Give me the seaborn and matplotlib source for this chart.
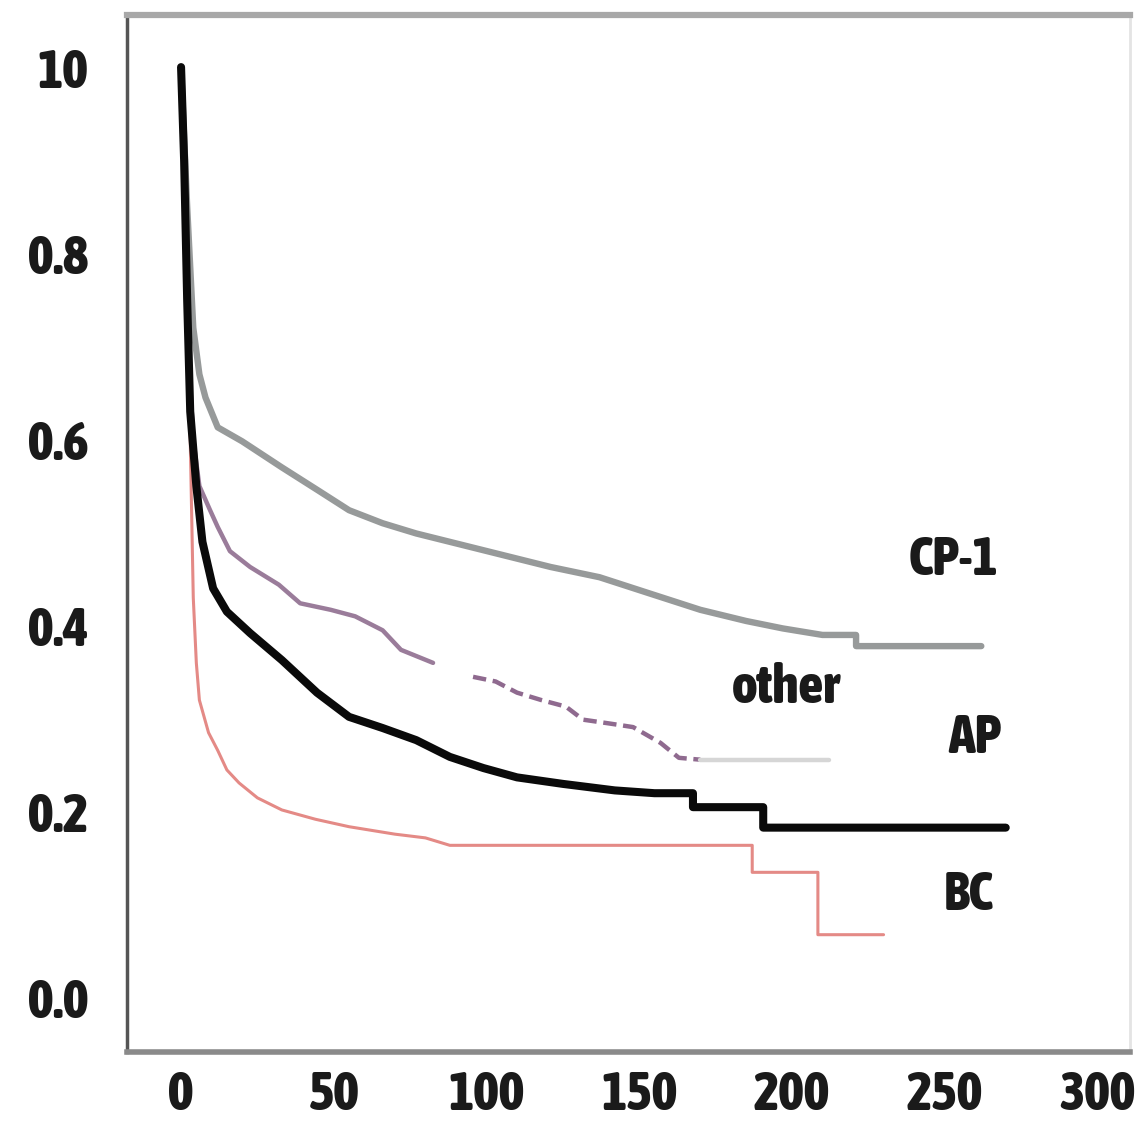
import numpy as np
import pandas as pd
import matplotlib
matplotlib.use("Agg")
import matplotlib.pyplot as plt
import seaborn as sns

# ---- data ----
cp1_t = [0, 2, 4, 6, 8, 12, 20, 33, 45, 55, 66, 77, 88, 99, 110, 121, 137, 153, 170, 185, 197, 210, 221, 221, 262]
cp1_s = [1.0, 0.85, 0.72, 0.67, 0.645, 0.613, 0.598, 0.57, 0.545, 0.524, 0.51, 0.499, 0.49, 0.481,
         0.472, 0.463, 0.452, 0.435, 0.417, 0.405, 0.397, 0.39, 0.39, 0.378, 0.378]

ap_t = [0, 1, 2, 3, 5, 7, 10.5, 15, 22.6, 33, 44.5, 55, 66, 77, 88, 99, 110, 125, 142, 155, 167.6,
        167.6, 190.6, 190.6, 270]
ap_s = [1.0, 0.9, 0.75, 0.63, 0.55, 0.49, 0.44, 0.415, 0.392, 0.363, 0.328, 0.302, 0.29, 0.277,
        0.259, 0.247, 0.237, 0.23, 0.223, 0.22, 0.22, 0.205, 0.205, 0.183, 0.183]

other_t = [0, 1, 2, 3, 4, 6, 9.5, 12, 16, 22.6, 32, 39, 49, 57, 66, 72, 82.5,
           95.6, 103, 110, 118, 126, 131.6, 140, 148, 157, 163, 170, 212]
other_s = [1.0, 0.9, 0.78, 0.66, 0.6, 0.55, 0.524, 0.506, 0.48, 0.463, 0.444, 0.424, 0.417, 0.41,
           0.395, 0.374, 0.36, 0.345, 0.34, 0.328, 0.32, 0.313, 0.299, 0.295, 0.291, 0.274, 0.258,
           0.256, 0.256]

bc_t = [0, 1.3, 3, 4, 5, 6, 9, 12, 15, 19, 25, 33, 44, 55, 70, 80, 88, 187, 187, 208.5, 208.5, 230]
bc_s = [1.0, 0.8, 0.6, 0.43, 0.36, 0.32, 0.285, 0.266, 0.245, 0.231, 0.215, 0.202, 0.192, 0.184,
        0.176, 0.172, 0.164, 0.164, 0.135, 0.135, 0.068, 0.068]

x_ticks = [0, 50, 100, 150, 200, 250, 300]
y_ticks = [0.0, 0.2, 0.4, 0.6, 0.8, 1.0]
y_tick_labels = ["0.0", "0.2", "0.4", "0.6", "0.8", "10"]

labels = ["CP-1", "other", "AP", "BC"]
label_x = [253, 198, 260, 258]
label_y = [0.47, 0.333, 0.279, 0.111]

# ---- style ----
sns.set_style("white")
FONT = ["Asap Condensed", "DejaVu Sans"]
plt.rcParams["font.family"] = FONT
plt.rcParams["font.weight"] = 800
FS = 39
FW = 800

fig = plt.figure(figsize=(11.4, 11.25), dpi=100)
ax = fig.add_axes([0.1114, 0.0649, 0.8796, 0.9218])

def frame(t, s):
    return pd.DataFrame({"t": t, "s": s})

sns.lineplot(data=frame(cp1_t, cp1_s), x="t", y="s", ax=ax, estimator=None, sort=False,
             color="#979a9a", linewidth=4.6, zorder=3)

n1 = other_t.index(82.5) + 1
n2 = other_t.index(170) + 1
sns.lineplot(data=frame(other_t[:n1], other_s[:n1]), x="t", y="s", ax=ax, estimator=None, sort=False,
             color="#9a7c9a", linewidth=3.2, zorder=3)
sns.lineplot(data=frame(other_t[n1:n2], other_s[n1:n2]), x="t", y="s", ax=ax, estimator=None, sort=False,
             color="#8f6a8f", linewidth=3.2, dashes=(3, 1.5), zorder=3)
sns.lineplot(data=frame(other_t[n2 - 1:], other_s[n2 - 1:]), x="t", y="s", ax=ax, estimator=None, sort=False,
             color="#d6d6d6", linewidth=3.2, zorder=3)

sns.lineplot(data=frame(bc_t, bc_s), x="t", y="s", ax=ax, estimator=None, sort=False,
             color="#e48a86", linewidth=2.2, zorder=4)
sns.lineplot(data=frame(ap_t, ap_s), x="t", y="s", ax=ax, estimator=None, sort=False,
             color="#0a0a0a", linewidth=5.8, zorder=5)

ax.set_xlim(-17.7, 310.6)
ax.set_ylim(-0.058, 1.056)
ax.set_xlabel("")
ax.set_ylabel("")
ax.set_xticks(x_ticks)
ax.set_xticklabels([str(v) for v in x_ticks])
ax.set_yticks(y_ticks)
ax.set_yticklabels(y_tick_labels)

for lbl in ax.get_xticklabels() + ax.get_yticklabels():
    lbl.set_fontfamily(FONT)
    lbl.set_fontweight(FW)
    lbl.set_fontsize(FS)
    lbl.set_color("#1a1a1a")

ax.tick_params(axis="x", direction="out", length=12, width=3.5, color="#7a7a7a", pad=0)
ax.tick_params(axis="y", direction="out", length=16, width=4, color="#9a9a9a", pad=12)

ax.spines["left"].set_color("#555555")
ax.spines["left"].set_linewidth(2.5)
ax.spines["bottom"].set_color("#8a8a8a")
ax.spines["bottom"].set_linewidth(4)
ax.spines["top"].set_color("#a8a8a8")
ax.spines["top"].set_linewidth(4.5)
ax.spines["right"].set_color("#e4e4e4")
ax.spines["right"].set_linewidth(2)

for txt, x, y in zip(labels, label_x, label_y):
    ax.text(x, y, txt, fontsize=FS, fontweight=FW, family=FONT,
            color="#1a1a1a", ha="center", va="center")

fig.savefig("out.png", dpi=100)
